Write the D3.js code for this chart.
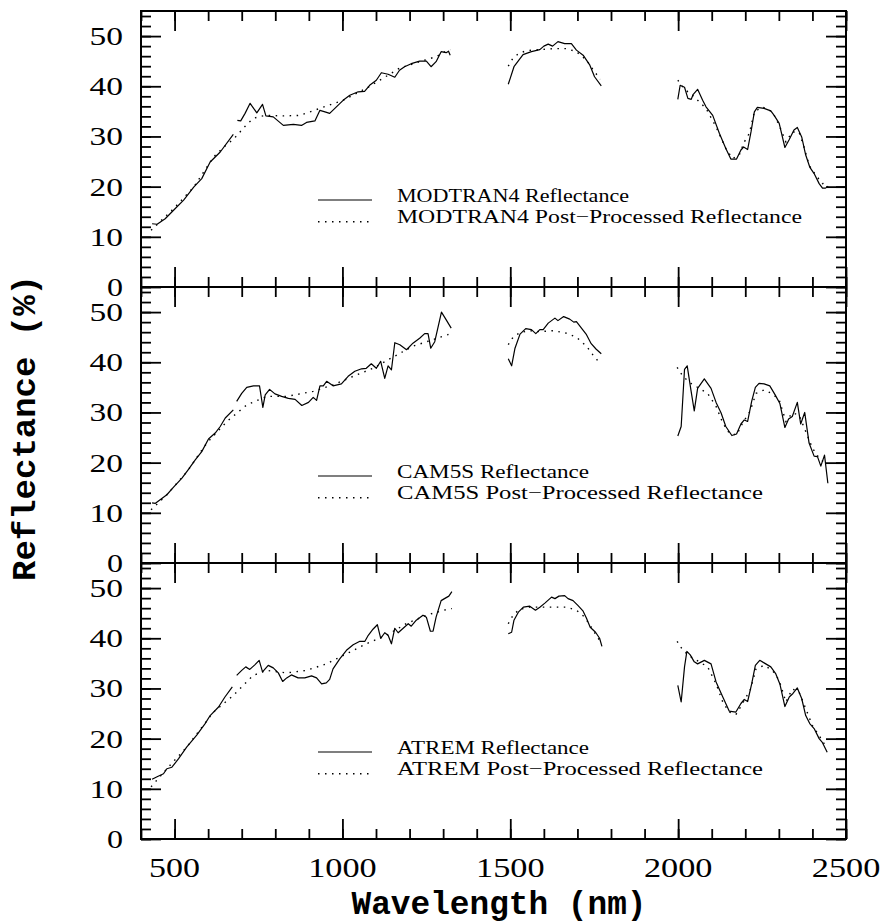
<!DOCTYPE html>
<html><head><meta charset="utf-8">
<script src="https://cdn.jsdelivr.net/npm/d3@7/dist/d3.min.js"></script>
<style>body{margin:0;background:#fff}svg{display:block}</style>
</head><body>
<svg id="chart" width="886" height="924"></svg>
<script>
// ---------------- DATA ----------------
const panelNames = ["MODTRAN4", "CAM5S", "ATREM"];
const xTickValues = [500, 1000, 1500, 2000, 2500];
const yTickValues = [0, 10, 20, 30, 40, 50];
const xLabel = "Wavelength (nm)";
const yLabel = "Reflectance (%)";

// [wavelength nm, reflectance %]; null = gap between spectral windows
const modtranRefl = [
  [433,12.6],[448,12.5],[472,13.6],[497,15.3],[527,17.3],[557,19.9],[581,21.6],[606,24.9],[636,26.9],[675,30.4], null,
  [687,33.2],[697,33.1],[710,34.6],[725,36.6],[745,34.7],[762,36.4],[772,34.1],[794,33.9],[824,32.2],[854,32.4],[878,32.2],[893,32.8],[918,33.1],[933,35.2],[948,34.9],[962,34.6],[982,35.9],[1002,37.2],[1022,38.2],[1047,38.9],[1066,39.0],[1081,40.2],[1101,41.2],[1116,42.7],[1136,42.4],[1156,41.8],[1170,43.2],[1185,43.9],[1205,44.5],[1230,45.0],[1250,45.0],[1264,43.9],[1279,44.9],[1294,46.9],[1309,46.7],[1316,47.0],[1321,46.2], null,
  [1494,40.4],[1511,43.9],[1538,46.3],[1563,46.9],[1588,47.3],[1600,48.0],[1613,48.4],[1626,48.0],[1642,48.9],[1662,48.5],[1682,48.5],[1697,47.2],[1717,46.2],[1737,44.2],[1751,41.9],[1771,40.1], null,
  [1999,37.4],[2006,40.2],[2019,39.8],[2029,37.6],[2039,37.4],[2045,38.4],[2058,39.4],[2073,37.2],[2083,35.9],[2103,34.2],[2123,30.6],[2142,27.6],[2157,25.5],[2174,25.5],[2187,27.3],[2195,27.9],[2207,27.4],[2217,30.9],[2227,34.9],[2236,35.8],[2256,35.6],[2276,35.1],[2286,34.2],[2301,32.6],[2318,27.8],[2331,29.4],[2345,31.3],[2355,31.8],[2368,29.9],[2380,26.3],[2392,23.9],[2405,22.6],[2420,20.6],[2430,19.7],[2439,19.7],[2447,20.1]
];
const modtranPost = [
  [430,11.3],[497,15.6],[557,19.9],[616,25.9],[655,28.4],[675,29.4],[695,30.9],[715,32.4],[735,33.6],[755,34.0],[775,34.2],[824,34.1],[873,34.2],[933,35.6],[1002,37.2],[1071,39.6],[1121,41.6],[1170,43.6],[1230,44.9],[1279,45.9],[1314,47.2],[1321,47.3], null,
  [1494,44.0],[1507,45.5],[1524,46.5],[1548,47.1],[1588,47.3],[1628,47.5],[1667,47.5],[1697,46.9],[1727,45.2],[1751,42.9],[1768,41.4], null,
  [1999,41.2],[2019,39.4],[2043,38.2],[2063,36.9],[2083,35.6],[2113,31.9],[2142,27.6],[2162,25.6],[2182,26.3],[2197,28.9],[2212,30.6],[2227,34.9],[2251,35.9],[2281,34.9],[2301,32.2],[2321,28.9],[2340,30.9],[2360,30.9],[2375,27.9],[2390,24.3],[2410,22.3],[2430,20.6],[2447,20.9]
];
const camRefl = [
  [433,12.0],[443,11.9],[457,12.6],[477,13.6],[497,15.1],[522,16.9],[542,18.7],[561,20.5],[581,22.2],[601,24.7],[621,25.9],[636,27.2],[651,28.9],[675,30.5], null,
  [685,32.2],[700,33.8],[715,35.0],[735,35.3],[753,35.3],[763,31.0],[770,33.5],[783,34.6],[799,33.7],[819,33.2],[839,32.8],[859,32.6],[879,31.4],[899,32.0],[913,33.0],[923,32.4],[933,35.3],[943,35.3],[953,36.2],[972,35.3],[997,35.7],[1017,37.2],[1037,38.2],[1057,38.7],[1071,38.8],[1086,39.7],[1101,38.8],[1114,40.2],[1126,36.8],[1136,39.3],[1146,38.5],[1156,43.9],[1171,43.5],[1191,42.5],[1210,43.8],[1230,44.8],[1245,45.7],[1255,45.7],[1263,42.8],[1275,44.1],[1295,50.0],[1306,48.8],[1324,46.8], null,
  [1494,40.7],[1504,39.3],[1514,42.8],[1529,45.6],[1546,46.7],[1563,46.5],[1576,45.7],[1588,46.5],[1598,46.5],[1613,47.8],[1633,48.8],[1642,48.3],[1659,49.1],[1677,48.6],[1689,48.0],[1697,48.1],[1712,46.8],[1727,45.5],[1741,43.7],[1756,42.6],[1771,41.7], null,
  [1999,25.3],[2009,27.2],[2019,38.6],[2027,39.3],[2038,34.5],[2048,30.3],[2058,34.8],[2078,36.7],[2098,34.8],[2113,32.0],[2128,29.9],[2142,27.2],[2160,25.4],[2174,25.7],[2187,27.7],[2197,28.5],[2207,28.2],[2219,32.2],[2230,35.0],[2241,35.8],[2256,35.7],[2273,35.3],[2289,33.5],[2303,31.8],[2318,27.0],[2329,28.7],[2340,29.2],[2355,32.0],[2365,27.7],[2377,30.0],[2390,23.9],[2405,21.3],[2415,21.2],[2425,19.3],[2436,21.5],[2446,15.9]
];
const camPost = [
  [430,10.6],[477,13.6],[537,18.2],[596,23.9],[656,28.2],[715,31.5],[775,33.2],[834,33.2],[913,34.2],[972,35.5],[1032,37.2],[1091,38.8],[1150,41.0],[1210,43.2],[1269,44.5],[1314,45.5],[1322,45.8], null,
  [1494,43.5],[1509,45.1],[1529,45.9],[1558,46.3],[1588,46.1],[1628,46.3],[1667,45.8],[1697,45.0],[1727,43.2],[1746,41.5],[1768,39.7], null,
  [1997,39.0],[2014,37.2],[2038,35.8],[2063,34.8],[2088,33.8],[2113,31.2],[2133,27.9],[2152,25.9],[2174,25.5],[2192,27.9],[2214,30.2],[2232,33.8],[2256,34.5],[2281,33.7],[2301,32.5],[2321,28.2],[2340,29.9],[2360,29.5],[2380,26.2],[2400,22.9],[2420,20.9],[2444,19.5]
];
const atremRefl = [
  [433,11.9],[448,12.4],[467,13.0],[477,14.0],[492,14.3],[512,16.0],[536,18.3],[566,20.7],[591,23.0],[606,24.6],[631,26.3],[650,28.3],[672,30.3], null,
  [685,32.6],[700,33.6],[712,34.3],[724,33.8],[739,34.7],[752,35.6],[762,33.3],[779,34.6],[794,34.1],[809,33.1],[822,31.4],[834,32.1],[848,32.7],[868,32.1],[888,32.1],[908,32.5],[923,32.1],[938,30.9],[952,31.1],[962,31.8],[972,33.9],[992,35.9],[1012,37.6],[1032,38.7],[1052,39.4],[1067,39.4],[1077,40.6],[1091,41.8],[1104,42.7],[1114,40.0],[1126,41.1],[1136,40.6],[1146,38.9],[1156,42.0],[1166,41.1],[1181,42.0],[1196,42.9],[1205,42.4],[1220,43.6],[1240,44.6],[1250,44.2],[1262,41.4],[1270,41.4],[1279,44.2],[1294,47.5],[1304,47.9],[1317,48.4],[1326,49.3], null,
  [1494,40.9],[1504,41.2],[1511,43.6],[1524,45.2],[1539,46.2],[1558,46.4],[1575,45.6],[1588,46.2],[1603,47.0],[1623,48.2],[1633,47.9],[1645,48.4],[1662,48.5],[1672,47.9],[1687,47.5],[1702,46.5],[1717,45.4],[1727,44.0],[1738,42.2],[1754,41.2],[1766,40.0],[1773,38.4], null,
  [1999,30.6],[2009,27.3],[2019,34.3],[2026,37.4],[2036,36.7],[2048,35.3],[2058,34.9],[2078,35.6],[2098,34.9],[2113,31.3],[2133,28.3],[2152,25.5],[2172,25.3],[2187,27.0],[2197,27.8],[2207,27.4],[2219,30.9],[2230,34.6],[2243,35.6],[2256,35.1],[2276,34.3],[2291,32.9],[2303,30.9],[2318,26.4],[2331,28.3],[2342,29.0],[2355,30.1],[2368,28.0],[2380,24.6],[2392,23.0],[2405,22.0],[2420,20.0],[2430,19.2],[2444,17.3]
];
const atremPost = [
  [430,10.4],[477,14.0],[536,18.3],[616,25.3],[675,28.6],[734,32.6],[774,33.6],[834,33.1],[893,33.6],[952,34.9],[1012,36.9],[1071,38.9],[1131,40.6],[1190,42.9],[1250,44.6],[1319,45.9],[1326,45.9], null,
  [1494,42.9],[1509,44.7],[1529,45.8],[1558,46.2],[1588,46.2],[1628,46.2],[1667,46.2],[1697,45.6],[1722,44.2],[1741,42.2],[1756,40.6],[1766,39.6], null,
  [1997,39.4],[2014,37.6],[2038,36.3],[2063,35.3],[2088,34.3],[2113,30.9],[2133,27.3],[2152,25.3],[2172,24.8],[2192,27.0],[2216,29.9],[2232,33.9],[2256,34.6],[2281,33.6],[2301,31.6],[2321,27.3],[2340,29.9],[2360,29.3],[2380,26.0],[2400,22.6],[2420,20.6],[2444,18.0]
];
const reflSeries = [modtranRefl, camRefl, atremRefl];
const postSeries = [modtranPost, camPost, atremPost];
const legendSolidWidths = [232, 192, 192];
const legendDottedWidths = [405, 366, 366];

// ---------------- LAYOUT ----------------
const svg = d3.select("#chart");
const left = 141, right = 846;
const panelTops = [11, 287, 563];
const panelH = 276;
const font = "'Liberation Serif', 'Times New Roman', serif";
const titleFont = "'Liberation Mono', 'Courier New', monospace";

const x = d3.scaleLinear().domain([400, 2500]).range([left, right]);
const xMinor = d3.range(400, 2501, 100);
const yMinor = d3.range(0, 55, 2);

panelNames.forEach((name, i) => {
  const top = panelTops[i];
  const y = d3.scaleLinear().domain([0, 55]).range([top + panelH, top]);
  const g = svg.append("g");

  const tickAxis = (axis, scale, values, size, transform) => {
    const a = g.append("g").attr("transform", transform)
      .call(axis(scale).tickValues(values).tickSize(size).tickSizeOuter(0).tickFormat(""));
    a.select(".domain").remove();
    a.selectAll(".tick line").attr("stroke", "#000").attr("stroke-width", 1.8);
    return a;
  };
  tickAxis(d3.axisBottom, x, xMinor, -10, `translate(0,${top + panelH})`);
  tickAxis(d3.axisBottom, x, xTickValues, -20, `translate(0,${top + panelH})`);
  tickAxis(d3.axisTop, x, xMinor, -10, `translate(0,${top})`);
  tickAxis(d3.axisTop, x, xTickValues, -20, `translate(0,${top})`);
  tickAxis(d3.axisLeft, y, yMinor, -10, `translate(${left},0)`);
  tickAxis(d3.axisLeft, y, yTickValues, -20, `translate(${left},0)`);
  tickAxis(d3.axisRight, y, yMinor, -10, `translate(${right},0)`);
  tickAxis(d3.axisRight, y, yTickValues, -20, `translate(${right},0)`);

  g.selectAll(".ylab").data(yTickValues).join("text")
    .attr("x", 123).attr("y", d => y(d) + 9)
    .attr("text-anchor", "end")
    .attr("font-family", font).attr("font-size", 26)
    .attr("textLength", d => String(d).length * 17.5 - 1.5)
    .attr("lengthAdjust", "spacingAndGlyphs")
    .attr("fill", "#000")
    .text(d => d);

  g.append("rect").attr("x", left).attr("y", top).attr("width", right - left).attr("height", panelH)
    .attr("fill", "none").attr("stroke", "#000").attr("stroke-width", 2);

  const line = d3.line().defined(d => d !== null).x(d => x(d[0])).y(d => y(d[1]));
  g.append("path").datum(reflSeries[i]).attr("d", line)
    .attr("fill", "none").attr("stroke", "#000").attr("stroke-width", 1.2).attr("stroke-linejoin", "round");
  g.append("path").datum(postSeries[i]).attr("d", line)
    .attr("fill", "none").attr("stroke", "#000").attr("stroke-width", 1.4)
    .attr("stroke-dasharray", "1.5,5.5");

  const ly1 = top + 189, ly2 = top + 210.7;
  g.append("line").attr("x1", 318).attr("x2", 372).attr("y1", ly1).attr("y2", ly1)
    .attr("stroke", "#000").attr("stroke-width", 1.2);
  g.append("line").attr("x1", 318).attr("x2", 372).attr("y1", ly2).attr("y2", ly2)
    .attr("stroke", "#000").attr("stroke-width", 1.4).attr("stroke-dasharray", "1.5,5.5");
  g.append("text").attr("x", 397).attr("y", top + 190.7)
    .attr("font-family", font).attr("font-size", 18.5)
    .attr("textLength", legendSolidWidths[i]).attr("lengthAdjust", "spacingAndGlyphs")
    .text(name + " Reflectance");
  g.append("text").attr("x", 397).attr("y", top + 212.3)
    .attr("font-family", font).attr("font-size", 18.5)
    .attr("textLength", legendDottedWidths[i]).attr("lengthAdjust", "spacingAndGlyphs")
    .text(name + " Post\u2212Processed Reflectance");
});

svg.selectAll(".xlab").data(xTickValues).join("text")
  .attr("x", d => x(d)).attr("y", 876.7)
  .attr("text-anchor", "middle")
  .attr("font-family", font).attr("font-size", 28)
  .attr("textLength", d => String(d).length * 17.5 - 1.5)
  .attr("lengthAdjust", "spacingAndGlyphs")
  .text(d => d);

svg.append("text").attr("x", 499).attr("y", 914)
  .attr("text-anchor", "middle").attr("font-family", titleFont).attr("font-weight", "bold")
  .attr("font-size", 34).attr("textLength", 295).attr("lengthAdjust", "spacingAndGlyphs")
  .text(xLabel);
svg.append("text").attr("transform", "translate(35,428) rotate(-90)")
  .attr("text-anchor", "middle").attr("font-family", titleFont).attr("font-weight", "bold")
  .attr("font-size", 33).attr("textLength", 306).attr("lengthAdjust", "spacingAndGlyphs")
  .text(yLabel);
</script>
</body></html>
